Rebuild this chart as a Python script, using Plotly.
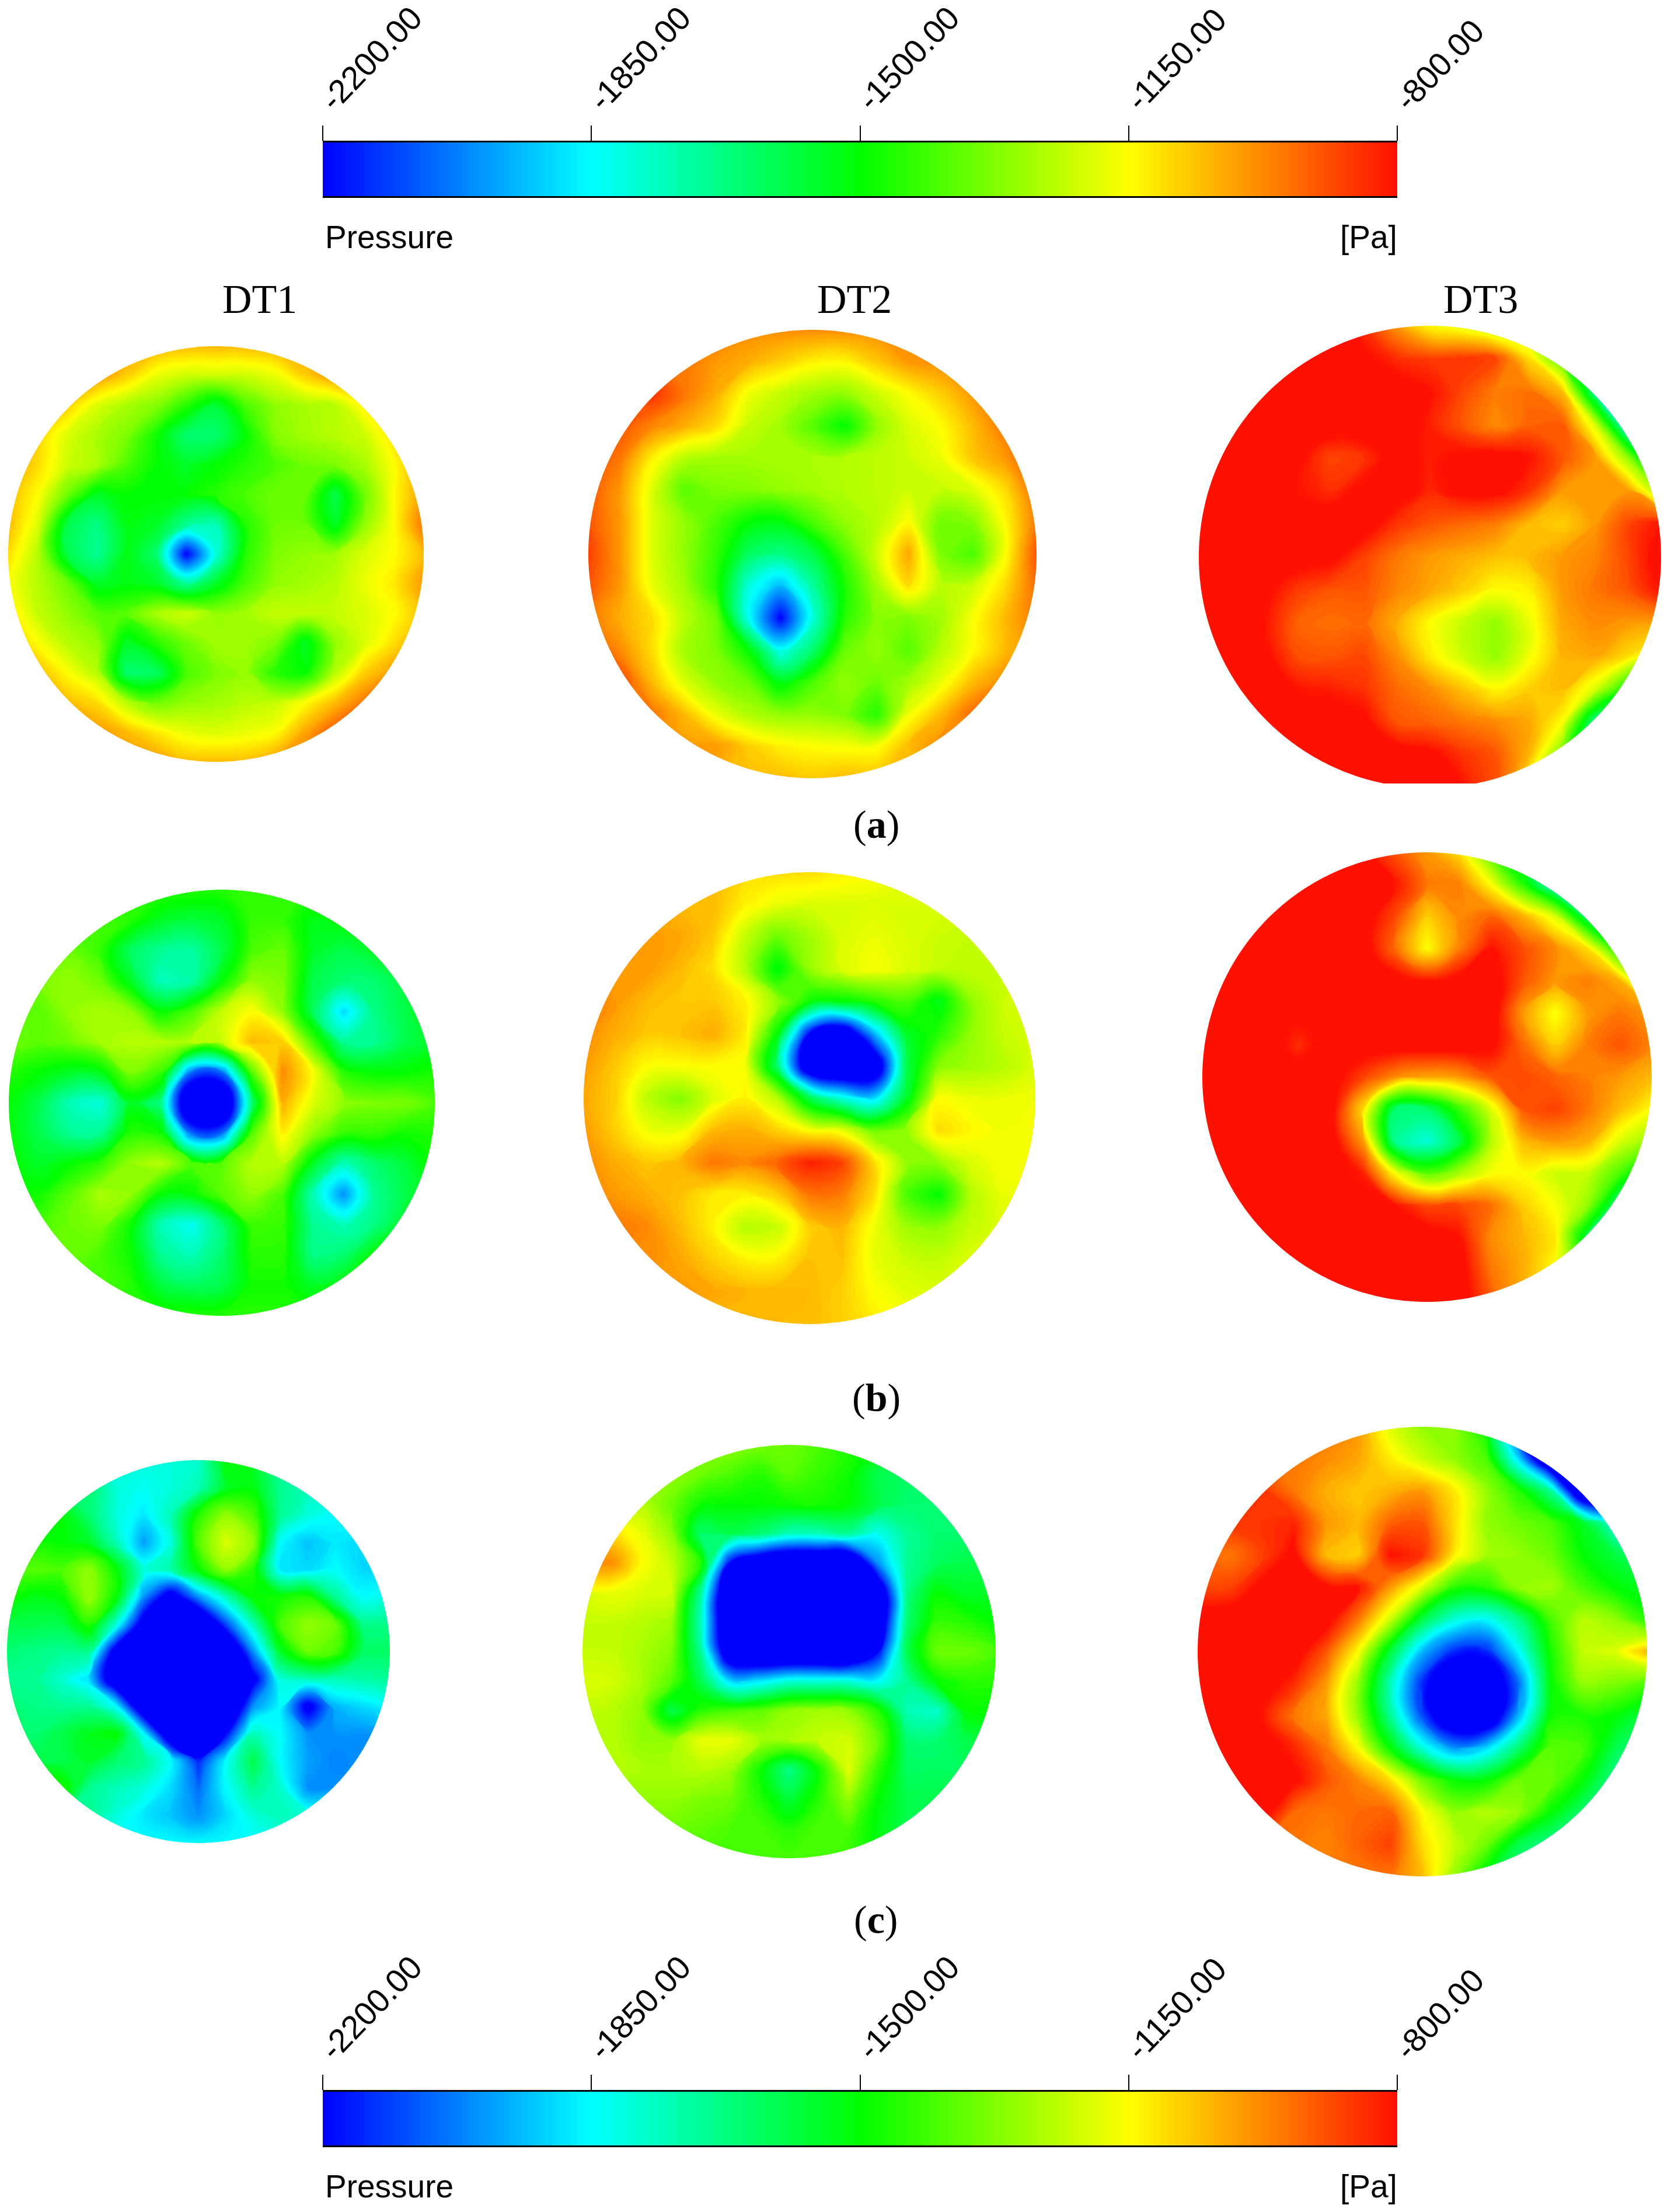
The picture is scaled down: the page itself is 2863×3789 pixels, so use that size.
import numpy as np
import plotly.graph_objects as go

WIDTH, HEIGHT = 2863, 3789
TICK_VALUES = [-2200, -1850, -1500, -1150, -800]
TICK_LABELS = ["-2200.00", "-1850.00", "-1500.00", "-1150.00", "-800.00"]
COLUMN_TITLES = ["DT1", "DT2", "DT3"]
ROW_LABELS = ["a", "b", "c"]

# Pressure, hundreds of Pa, rows top to bottom
a1 = [
[-10,-10,-10,-10,-10,-10.3,-10.5,-10.5,-10.5,-10.3,-10,-10,-10,-10,-10],
[-10,-10,-10,-10,-10.8,-11.8,-12.2,-12.2,-12.2,-11.8,-10.8,-10,-10,-10,-10],
[-10,-10,-10.8,-12,-12.7,-13.2,-14.5,-15.8,-14,-13,-12.7,-12.5,-11.3,-10,-10],
[-10,-10.8,-12,-12.7,-13.3,-14.8,-16.5,-16.5,-15,-13.2,-12.8,-12.5,-12.2,-11,-10],
[-10,-11,-12.2,-12.7,-14,-15,-15.5,-15,-14.5,-14,-13.5,-13.3,-12.7,-11.5,-10],
[-10.5,-11.5,-13.5,-15.5,-15,-15,-15,-14.5,-14,-13.5,-13.5,-16,-13.5,-11.5,-10],
[-10.5,-12,-16,-16.8,-15.2,-15.5,-17,-17.5,-14.5,-13.5,-13.5,-15.5,-13,-11.5,-9.5],
[-11,-12.5,-16,-17,-15.2,-16.5,-22,-18,-14.5,-13.3,-13,-12.8,-12,-11.5,-10.5],
[-11.5,-12.5,-13.5,-15.5,-15.2,-15.5,-17,-15.5,-14,-13,-12.8,-12.5,-11.8,-11.2,-10],
[-11,-12.3,-13,-13.8,-13.8,-12.7,-12.2,-13,-12.8,-12.3,-12.3,-12.3,-12,-11.5,-10.5],
[-10.5,-11.5,-12.5,-13,-15.5,-14.5,-13.5,-12.8,-12.8,-13.3,-15.5,-13,-12,-11,-10],
[-10.5,-10.5,-11.5,-12.5,-16.5,-16.3,-14,-13.3,-13,-14.5,-15,-12.5,-10.8,-10,-10],
[-10.5,-10.5,-10.5,-11,-12.5,-13.5,-13,-12.8,-12.5,-12.3,-11.5,-10.5,-9.5,-9,-9],
[-10,-10,-10,-10,-10.5,-11.2,-11.8,-12,-11.8,-11.5,-10.2,-9,-8.5,-8.5,-8.5],
[-10,-10,-10,-10,-10,-10,-10.5,-10.5,-10.5,-10,-9.5,-9,-9,-9,-9],
]
a2 = [
[-9.5,-9.5,-9.5,-9.5,-9.5,-9.8,-9.8,-9.8,-9.8,-9.8,-9.8,-9.8,-9.8,-9.8,-9.8],
[-9.5,-9.5,-9.5,-9.5,-10,-10.3,-10.8,-11.3,-11.4,-10.7,-10,-9.8,-9.8,-9.8,-9.8],
[-9,-9,-8.5,-9.5,-10.3,-11.7,-12.3,-12.8,-13,-12.2,-11.5,-10.8,-10,-9.5,-9.5],
[-9,-9,-9.7,-10.3,-11,-12.3,-12.8,-13.8,-15,-13,-12,-11.5,-10.5,-9.5,-9],
[-9,-9.5,-11.3,-12.5,-12.8,-12.8,-12.7,-12.7,-12.6,-12.4,-12.2,-11.8,-10.7,-10,-9],
[-9,-10,-12,-13.8,-13.3,-13.2,-13,-12.8,-12.6,-12.4,-12.2,-12.3,-12,-11,-9.3],
[-9,-10,-12,-13,-14,-15,-15.2,-14,-13,-12.5,-11.5,-13.5,-13.2,-11.5,-9.5],
[-8.7,-10,-12,-13,-14.3,-16.3,-16.8,-16,-14,-12.2,-10.2,-13.3,-14,-11.6,-9],
[-9,-10,-11.8,-12.8,-14.5,-18,-19.5,-17.2,-14.7,-12.8,-11,-12.5,-12.2,-11,-9.3],
[-9.5,-10.3,-11,-12.5,-13.5,-18.3,-22,-18,-14.5,-13.2,-13.3,-12.8,-11.6,-10.5,-9.5],
[-9,-9.8,-11,-12.8,-13.3,-15,-18.3,-16.5,-13.6,-13,-13.8,-12.5,-11.5,-10.5,-9.8],
[-8.8,-8.8,-10.5,-12,-13,-13.5,-15.3,-14,-13,-13.5,-12.8,-11.8,-10.5,-9.8,-9.8],
[-9.5,-9.5,-9.5,-10.5,-11.8,-12.6,-13,-13,-13.3,-14.5,-11.7,-10.5,-9.3,-9.3,-9.3],
[-10,-10,-10,-10,-10,-10.8,-11.3,-11.5,-11.6,-11.6,-10.5,-9.8,-9.8,-9.8,-9.8],
[-10.5,-10.5,-10.5,-10.5,-10.5,-10.5,-10.5,-10.7,-10.5,-10.5,-10.5,-10.5,-10.5,-10.5,-10.5],
]
a3 = [
[-7.5,-7.5,-7.5,-7.5,-7.5,-8.5,-10,-11.5,-12,-13,-13,-13,-13,-13,-13],
[-7.5,-7.5,-7.5,-7.5,-7.5,-7.8,-8.4,-8.6,-8.5,-8.8,-11,-14,-16,-17,-17],
[-7.5,-7.5,-7.5,-7.5,-7.5,-7.5,-7.5,-8,-8.8,-9.6,-9.4,-10.5,-17,-19,-19],
[-7.5,-7.5,-7.5,-7.5,-7.5,-7.5,-7.5,-8.2,-9,-9.8,-9.2,-9,-12,-18.5,-19],
[-7.5,-7.5,-7.5,-7.8,-8.8,-8.5,-7.6,-8.2,-7.8,-7.6,-8,-9,-10,-13,-18],
[-7.5,-7.5,-7.5,-8,-8.4,-7.8,-7.6,-8.3,-7.8,-7.8,-8.5,-10,-10,-10,-13],
[-7.5,-7.5,-7.5,-7.5,-7.5,-7.6,-8.5,-9,-9.3,-9.6,-10.5,-10.8,-10,-8.8,-8],
[-7.5,-7.5,-7.5,-7.6,-7.8,-8.7,-9.5,-10,-10.3,-10.6,-10.5,-10,-9.7,-8.8,-7.6],
[-7.5,-7.5,-7.8,-8.6,-9,-9,-9.7,-10.2,-10.8,-11.5,-11.3,-10,-9.5,-9,-8],
[-7.5,-7.5,-8,-9.2,-9.4,-9.3,-10.3,-11.5,-12.3,-13,-11.8,-10.2,-9.8,-10,-10],
[-7.5,-7.5,-7.8,-8.9,-9,-8.8,-9.8,-11.2,-12.2,-13,-11.7,-10.4,-10.2,-11,-12.5],
[-7.5,-7.5,-7.5,-8,-8.2,-8.5,-9.3,-9.8,-10.6,-11.4,-10.8,-10.5,-12,-15,-18],
[-7.5,-7.5,-7.5,-7.5,-7.5,-7.8,-9,-9.2,-9.5,-9.8,-10.2,-11.5,-17,-18,-18],
[-7.5,-7.5,-7.5,-7.5,-7.5,-7.5,-7.5,-7.8,-8.5,-9,-10.4,-13.5,-17,-18,-18],
[-7.5,-7.5,-7.5,-7.5,-7.5,-7.5,-7.5,-7.5,-8,-9,-12,-14,-14,-14,-14],
]
b1 = [
[-14.3,-14.3,-14.3,-14.3,-14.3,-14.3,-14.5,-14.5,-14.3,-14.3,-14.3,-14.5,-14.5,-14.5,-14.5],
[-14,-14,-14,-14,-14.5,-15.5,-15.8,-15.5,-14.3,-14.3,-15.3,-15,-15,-15,-15],
[-13.5,-13.5,-13.5,-14.3,-16.3,-17,-17.2,-16,-14,-13.6,-15.5,-16,-15.5,-15,-15],
[-13.3,-13.3,-13,-13.5,-15.5,-17.6,-17.3,-15,-13,-13.3,-16,-16.5,-16.5,-15.8,-15],
[-13.5,-13.8,-13,-12.7,-13,-15,-14,-12.3,-11.5,-13,-16.2,-19,-16.8,-16,-15],
[-13.5,-13.8,-13.5,-12.8,-12.5,-12.5,-12.5,-12.3,-10.5,-10.8,-14,-17,-17,-16,-15.5],
[-14.5,-15,-15.5,-15.3,-13.3,-14.2,-20.5,-20.5,-13.8,-9.8,-11.5,-14.5,-15,-15,-14.7],
[-15,-16,-17.5,-18,-15.5,-16.8,-25,-25,-16.5,-10.3,-12,-13,-13.3,-13.3,-14],
[-15,-16,-17,-17,-14.5,-14.8,-20.5,-20.5,-13.8,-11.3,-13,-14.3,-14.3,-14.8,-14.6],
[-15,-15.5,-15,-14.3,-13,-12.5,-14,-13.8,-12.5,-12.5,-15.5,-17.5,-16.5,-15.8,-14.8],
[-14.8,-14.8,-13.8,-12.7,-13,-15,-15,-13.8,-13,-14,-17.5,-20,-17,-16,-15],
[-14,-14,-13.5,-13.3,-14.8,-17.5,-18.3,-16.5,-14.2,-14.3,-17,-17.5,-16.8,-15.5,-15],
[-13.5,-13.5,-13.5,-14,-14.8,-17,-17.5,-16.5,-14.5,-14.5,-16.8,-16.5,-15,-15,-15],
[-14,-14,-14,-14,-14.5,-15.8,-16.3,-16,-14.8,-14.8,-15.5,-15,-15,-15,-15],
[-14.5,-14.5,-14.5,-14.5,-14.5,-14.5,-14.5,-14.5,-14.5,-14.5,-14.5,-14.5,-14.5,-14.5,-14.5],
]
b2 = [
[-10.5,-10.5,-10.5,-10.5,-10.5,-11,-11,-11,-11.3,-11.5,-11.8,-11.8,-11.8,-11.8,-11.8],
[-10.5,-10.5,-10.5,-10.5,-10.5,-11.3,-11.8,-12,-12,-12,-12,-12,-12,-12,-12],
[-10,-10,-10,-10.2,-10.7,-12.3,-13.5,-12.8,-12,-11.8,-12,-12.2,-12.3,-12.3,-12.3],
[-10,-10,-10,-10.5,-11,-12.5,-15.2,-13,-12,-11.6,-12,-12.3,-12.3,-12.3,-12.3],
[-9.5,-10,-10.5,-10.7,-10.7,-11.3,-13,-14.8,-15,-14.5,-14,-15.3,-13,-12.2,-12],
[-9.8,-10.3,-10.7,-10.6,-10.3,-11.2,-15,-22,-24,-19.5,-15.5,-14.5,-13,-12.3,-12],
[-10,-10.7,-11.5,-11.5,-11.5,-11.6,-16.5,-24,-25,-24,-16,-13.2,-12.8,-12.5,-12],
[-10.2,-10.8,-12.5,-13.2,-12,-11.3,-12.5,-16,-18,-19,-15.5,-11.5,-11.8,-11.8,-11.7],
[-10,-10.8,-11.7,-11.8,-10.5,-10.3,-10.8,-11.5,-11.8,-13.5,-13,-11,-11.4,-11.7,-11.6],
[-9.8,-10.3,-10.7,-10.4,-9.5,-9.8,-9.2,-8.2,-8.7,-11,-13,-13,-12,-11.6,-11.6],
[-9.7,-10,-10.3,-10.6,-11.2,-11.3,-10.8,-9.5,-9.6,-11,-14,-15,-12.5,-11.8,-11.8],
[-9.5,-9.5,-9.8,-10.5,-11.3,-12.5,-12.3,-10.8,-10.4,-11.7,-12.8,-13,-12.3,-12,-12],
[-9.8,-9.8,-9.8,-10.2,-10.8,-11.3,-11.3,-10.6,-10.6,-11.8,-12.2,-12.3,-12,-12,-12],
[-10,-10,-10,-10,-10.2,-10.4,-10.4,-10.5,-10.8,-11.5,-11.9,-12,-12,-12,-12],
[-10.5,-10.5,-10.5,-10.5,-10.5,-10.5,-10.5,-10.5,-10.8,-11.2,-11.5,-11.5,-11.5,-11.5,-11.5],
]
b3 = [
[-7.5,-7.5,-7.5,-7.5,-7.5,-8,-9,-10,-11,-14,-16,-17,-17,-17,-17],
[-7.5,-7.5,-7.5,-7.5,-7.5,-7.5,-8,-9.5,-9.6,-11.5,-14.5,-18,-19,-19,-19],
[-7.5,-7.5,-7.5,-7.5,-7.5,-7.5,-8.8,-10.8,-9.8,-9.2,-10.3,-12,-16.5,-19,-19],
[-7.5,-7.5,-7.5,-7.5,-7.5,-7.5,-9.3,-11.5,-9.6,-8,-8.9,-9.8,-11,-15,-19],
[-7.5,-7.5,-7.5,-7.5,-7.5,-7.5,-7.6,-8,-7.6,-7.5,-9,-10,-9.6,-10.3,-14],
[-7.5,-7.5,-7.5,-7.8,-7.5,-7.5,-7.5,-7.5,-7.5,-7.5,-10,-11.6,-10,-9.5,-10],
[-7.5,-7.5,-7.5,-8.4,-7.5,-7.5,-7.5,-7.5,-7.5,-7.8,-9.3,-10.8,-9.6,-9,-9.7],
[-7.5,-7.5,-7.5,-7.5,-7.6,-8.7,-9.8,-10.2,-10,-9,-8.8,-9.2,-9.6,-10,-10.5],
[-7.5,-7.5,-7.5,-7.5,-7.6,-11,-16.5,-16.5,-14.3,-12,-9,-8.7,-9.5,-10.5,-11.5],
[-7.5,-7.5,-7.5,-7.5,-7.5,-10,-17,-18,-16,-12.5,-10.5,-10,-10.3,-12,-13],
[-7.5,-7.5,-7.5,-7.5,-7.5,-8.2,-11.5,-13.8,-12.7,-11.6,-11.5,-12.2,-12.3,-14,-16],
[-7.5,-7.5,-7.5,-7.5,-7.7,-7.6,-8,-8.8,-8.8,-9.4,-10.8,-11.6,-13,-17,-18],
[-7.5,-7.5,-7.5,-7.5,-8,-7.5,-7.5,-7.5,-8,-9.8,-10.4,-11.2,-16,-17,-17],
[-7.5,-7.5,-7.5,-7.5,-7.5,-7.5,-7.5,-7.5,-7.6,-9.5,-10.3,-11.5,-13,-13,-13],
[-7.5,-7.5,-7.5,-7.5,-7.5,-7.5,-7.5,-7.5,-7.5,-9,-10.5,-11,-11,-11,-11],
]
c1 = [
[-18,-18,-18,-18,-18,-18,-18,-17.8,-15,-15.5,-17,-18,-18,-18,-18],
[-17,-17,-17,-16.5,-18,-18.3,-18,-17.5,-15.5,-15.2,-17,-17.5,-17.5,-17.5,-17.5],
[-16,-16,-15,-16.5,-18,-18.8,-17.5,-14.5,-13,-14,-17,-18,-18.5,-18.5,-18.5],
[-14.7,-14.7,-15,-15.5,-17.5,-19.8,-18,-13.8,-12,-13,-18.5,-19.3,-18.8,-19,-19],
[-14,-13.8,-14,-13,-15,-18,-17.3,-15,-13,-14.5,-18.8,-19,-18.5,-19,-19],
[-14.7,-15.3,-15,-12.8,-15,-20,-23,-20,-17.5,-15,-14.8,-14.5,-17,-18.5,-18],
[-16,-16,-16,-14.5,-18,-23,-25,-25,-21,-17.5,-14,-13,-13.5,-16.8,-16.8],
[-16.5,-16.8,-17,-17,-23,-25,-25,-25,-25,-20,-15.5,-13.5,-14,-16.3,-16.3],
[-17,-17,-17.8,-19,-24,-25,-25,-25,-25,-22.5,-18,-17.5,-17.5,-17.3,-17],
[-16.5,-16.8,-17,-17,-18.5,-24,-25,-25,-25,-20,-18.5,-22.5,-19.5,-19,-18.5],
[-16.5,-16.5,-16,-15.3,-15,-18.5,-24,-25,-22,-17.5,-18.5,-20,-20,-20,-20],
[-16,-16,-16,-15.5,-16.5,-17,-18.5,-21.5,-18.5,-16,-18.5,-19.8,-20.2,-20,-20],
[-14.5,-14.5,-14.5,-17,-17.5,-18,-19,-20.5,-18.5,-17,-17.8,-20,-20,-20,-20],
[-17,-17,-17,-17,-18,-18.8,-19.3,-20,-19,-18,-17.5,-18,-18,-18,-18],
[-18.5,-18.5,-18.5,-18.5,-18.5,-18.5,-18.5,-18.5,-18.5,-18.5,-18.5,-18.5,-18.5,-18.5,-18.5],
]
c2 = [
[-13,-13,-13,-13,-13,-13,-13.3,-13.5,-14,-14.5,-15,-16,-16,-16,-16],
[-13,-13,-13,-13,-13.5,-14,-14.5,-13.8,-14.3,-14.8,-16,-16.3,-16.3,-16.3,-16.3],
[-12.5,-12.5,-12.5,-13.5,-14.8,-15,-15,-14.8,-14.7,-15,-16,-16.5,-16.5,-16.5,-16.5],
[-11,-11,-11.8,-13,-16.5,-16,-16.5,-17.5,-17.5,-17,-18.3,-17,-16.5,-16.5,-16.5],
[-10,-9.8,-11.5,-12.3,-14.5,-22,-24,-25,-25,-25,-20,-17,-16.3,-16,-16],
[-12,-11.8,-12,-12.1,-17,-25,-25,-25,-25,-25,-24,-16.8,-15,-15.5,-15.5],
[-12.3,-12.3,-12.5,-12.8,-17.5,-25,-25,-25,-25,-25,-24,-16.5,-14.3,-14.5,-15],
[-12.3,-12.3,-12.7,-13.2,-17,-24,-25,-25,-25,-25,-22,-16,-13.5,-13.5,-14],
[-12,-12.1,-12.7,-13.8,-16,-19,-18.8,-18,-18,-18,-18.5,-17,-15,-14.5,-14.5],
[-12.3,-12.5,-13,-16,-14.5,-14,-13.7,-13,-12.8,-13,-14.5,-17.5,-17.8,-15,-15],
[-12.5,-12.5,-13,-13,-11.8,-11.8,-12.7,-12.7,-12.3,-12.1,-13.5,-16.5,-16.5,-16,-16],
[-12.5,-12.5,-12.7,-12.7,-12.5,-12.8,-14.8,-16.8,-14.8,-11.9,-14.3,-16.3,-16.3,-16.3,-16.3],
[-13,-13,-13,-13,-13.3,-13.5,-14.5,-15.8,-14.5,-13,-15,-16,-16,-16,-16],
[-13.5,-13.5,-13.5,-13.5,-13.7,-14,-14,-14.5,-14,-14,-15.2,-16,-16,-16,-16],
[-14,-14,-14,-14,-14,-14,-14,-14,-14,-14.3,-15,-15.5,-15.5,-15.5,-15.5],
]
c3 = [
[-9.5,-9.5,-9.5,-9.5,-9.5,-10,-12,-13,-13,-15,-22,-25,-25,-25,-25],
[-9.5,-9.5,-9.5,-9.5,-9.8,-10.2,-11.2,-12.2,-13,-14,-19,-25,-25,-25,-25],
[-8.5,-8.5,-8.5,-9.5,-10.3,-10.7,-10.4,-10,-11.2,-13,-14.5,-17,-25,-25,-25],
[-8.5,-8.5,-8.5,-8.3,-10,-10.5,-9.2,-9,-11,-13,-13.5,-14,-15.5,-18,-18],
[-9.3,-9.5,-8.7,-7.8,-10.5,-10.8,-8,-8.5,-11.3,-12.8,-13,-13.5,-15,-15.8,-17],
[-8.8,-8.7,-7.8,-7.5,-7.8,-8,-10,-12,-14.5,-14.5,-13,-12.8,-14,-15,-15.5],
[-7.5,-7.5,-7.5,-7.5,-7.6,-9.5,-12.2,-16,-18,-18.5,-16.8,-14,-12.5,-13,-14.5],
[-7.5,-7.5,-7.5,-7.5,-9,-11.5,-15.8,-19.5,-21.5,-21.5,-18.5,-14.7,-12.3,-12,-10.5],
[-7.5,-7.5,-7.5,-8.4,-10,-13,-17.5,-21.5,-24,-24,-20.5,-15,-13,-13.3,-14],
[-7.5,-7.5,-8,-9.5,-10.2,-13,-17,-21,-24,-24,-19.5,-14.8,-14.7,-15,-16],
[-7.5,-7.5,-7.5,-8.3,-9.5,-11.5,-15,-18,-20,-19,-16.5,-13.8,-14,-16,-17],
[-7.5,-7.5,-7.5,-7.8,-9,-9.7,-11,-13.5,-15,-15,-13.5,-13.5,-15,-17,-17],
[-7.5,-7.5,-7.5,-9.3,-9.5,-9.3,-9.2,-11.5,-13,-12.5,-13,-15,-16.5,-16.5,-16.5],
[-9.5,-9.5,-9.5,-9.5,-9.7,-9.2,-8.7,-11,-12.3,-13.5,-16,-17,-17,-17,-17],
[-9.5,-9.5,-9.5,-9.5,-9.5,-9.5,-9.5,-10.5,-13,-15.5,-17,-17,-17,-17,-17],
]
GRIDS = [a1, a2, a3, b1, b2, b3, c1, c2, c3]

# Disc centre x, centre y, radius in picture pixels
DISCS = [(370, 949, 356), (1392, 949, 384), (2450, 954, 396),
         (380, 1889, 365), (1387, 1881, 387), (2445, 1845, 385),
         (340, 2829, 328), (1352, 2829, 354), (2437, 2829, 385)]
BAR_TOPS = [244, 3583]

COLORSCALE = [[0, "#0000ff"], [0.25, "#00ffff"], [0.5, "#00ff00"],
              [0.75, "#ffff00"], [1, "#ff1000"]]
SANS = "Liberation Sans"
SERIF = "Liberation Serif"
PAGE_MARGIN = 8  # the page body offsets the figure by this much


def px(x):
    return (x - PAGE_MARGIN) / WIDTH


def py(y):
    return 1 - (y - PAGE_MARGIN) / HEIGHT


fig = go.Figure()
theta = np.linspace(0, 2 * np.pi, 361)
circle = " ".join(f"L {np.cos(t):.4f} {np.sin(t):.4f}" for t in theta[1:])
mask = f"M -1.3 -1.3 L 1.3 -1.3 L 1.3 1.3 L -1.3 1.3 Z M 1 0 {circle} Z"

layout_axes = {}
shapes = []
for k, (grid, (cx, cy, r)) in enumerate(zip(GRIDS, DISCS), start=1):
    z = np.array(grid, dtype=float) * 100
    pos = np.linspace(-1, 1, z.shape[0])
    suffix = "" if k == 1 else str(k)
    fig.add_trace(go.Contour(
        x=pos, y=pos, z=z, zmin=-2200, zmax=-800, colorscale=COLORSCALE,
        autocontour=False, contours=dict(coloring="fill", start=-2200, end=-800, size=10,
                                         showlines=False),
        line=dict(width=0, smoothing=1.3), hoverinfo="skip", showscale=False,
        xaxis=f"x{suffix}", yaxis=f"y{suffix}",
    ))
    layout_axes[f"xaxis{suffix}"] = dict(
        domain=[px(cx - r), px(cx + r)], range=[-1, 1], visible=False,
        anchor=f"y{suffix}", fixedrange=True)
    layout_axes[f"yaxis{suffix}"] = dict(
        domain=[py(cy + r), py(cy - r)], range=[1, -1], visible=False,
        anchor=f"x{suffix}", fixedrange=True)
    shapes.append(dict(type="path", path=mask, xref=f"x{suffix}", yref=f"y{suffix}",
                       fillcolor="white", fillrule="evenodd", line=dict(width=0),
                       layer="above"))

# flat cut at the foot of the DT3 disc in row (a)
shapes.append(dict(type="rect", xref="paper", yref="paper", x0=px(2200), x1=px(2700),
                   y0=py(1360), y1=py(1342), fillcolor="white", line=dict(width=0),
                   layer="above"))

# the two colour bars, drawn from the tick values on their own axes
for k, top in zip([10, 11], BAR_TOPS):
    fig.add_trace(go.Heatmap(
        x=TICK_VALUES, y=[0, 1], z=[TICK_VALUES, TICK_VALUES], zsmooth="best",
        zmin=-2200, zmax=-800, colorscale=COLORSCALE, showscale=False, hoverinfo="skip",
        xaxis=f"x{k}", yaxis=f"y{k}",
    ))
    layout_axes[f"xaxis{k}"] = dict(
        domain=[px(553), px(2394)], range=[-2200, -800], anchor=f"y{k}", side="top",
        tickmode="array", tickvals=TICK_VALUES, ticktext=TICK_LABELS, ticks="outside",
        ticklen=26, tickwidth=2, tickcolor="black", tickangle=-46, ticklabelstandoff=-9,
        tickfont=dict(family=SANS, size=56, color="black"), showgrid=False, zeroline=False,
        showline=True, mirror=True, linecolor="black", linewidth=3, fixedrange=True)
    layout_axes[f"yaxis{k}"] = dict(
        domain=[py(top + 92), py(top)], range=[0, 1], visible=False,
        anchor=f"x{k}", fixedrange=True)

annotations = []
for title, x in zip(COLUMN_TITLES, [445, 1464, 2537]):
    annotations.append(dict(text=title, x=px(x), y=py(512), xref="paper", yref="paper",
                            showarrow=False, xanchor="center", yanchor="middle",
                            font=dict(family=SERIF, size=70, color="black")))
for label, y in zip(ROW_LABELS, [1412, 2394, 3288]):
    annotations.append(dict(text=f"(<b>{label}</b>)", x=px(1501), y=py(y), xref="paper",
                            yref="paper", showarrow=False, xanchor="center", yanchor="middle",
                            font=dict(family=SERIF, size=68, color="black")))
for y in [406, 3745]:
    annotations.append(dict(text="Pressure", x=px(555), y=py(y), xref="paper", yref="paper",
                            showarrow=False, xanchor="left", yanchor="middle",
                            font=dict(family=SANS, size=55, color="black")))
    annotations.append(dict(text="[Pa]", x=px(2396), y=py(y), xref="paper", yref="paper",
                            showarrow=False, xanchor="right", yanchor="middle",
                            font=dict(family=SANS, size=55, color="black")))

fig.update_layout(
    width=WIDTH, height=HEIGHT, paper_bgcolor="white", plot_bgcolor="white",
    margin=dict(l=0, r=0, t=0, b=0, autoexpand=False), showlegend=False,
    shapes=shapes, annotations=annotations, **layout_axes,
)
fig.write_html("out.html", config=dict(displayModeBar=False))
